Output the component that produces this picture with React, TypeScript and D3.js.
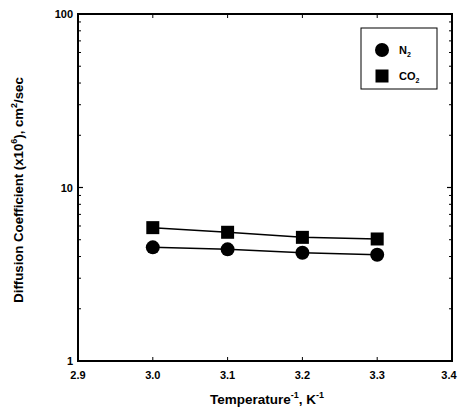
import React from "react";
import * as d3 from "d3";

const xTicks = [2.9, 3.0, 3.1, 3.2, 3.3, 3.4];
const yTicks = [1, 10, 100];
const temps = [3.0, 3.1, 3.2, 3.3];
const n2 = [4.52, 4.4, 4.21, 4.1];
const co2 = [5.87, 5.52, 5.16, 5.05];

const W = 458, H = 409;
const L = 78, R = 452, T = 14, B = 361;

export default function App() {
  const x = d3.scaleLinear().domain([2.9, 3.4]).range([L, R]);
  const y = d3.scaleLog().domain([1, 100]).range([B, T]);
  const line = d3.line<number>().x((_, i) => x(temps[i])).y((d) => y(d));
  const minors: number[] = [];
  for (const dec of [1, 10]) for (let k = 2; k <= 9; k++) minors.push(dec * k);
  const font = "'Liberation Sans', Arial, sans-serif";
  return (
    <svg width={W} height={H} style={{ position: "absolute", left: 0, top: 0 }}>
      <rect width={W} height={H} fill="#fff" />
      {minors.map((v) => (
        <g key={"m" + v}>
          <line x1={L} x2={L + 3} y1={y(v)} y2={y(v)} stroke="#000" strokeWidth={1} />
          <line x1={R} x2={R - 3} y1={y(v)} y2={y(v)} stroke="#000" strokeWidth={1} />
        </g>
      ))}
      {yTicks.map((v) => (
        <g key={"y" + v}>
          <line x1={L} x2={L + 5} y1={y(v)} y2={y(v)} stroke="#000" strokeWidth={1.2} />
          <line x1={R} x2={R - 5} y1={y(v)} y2={y(v)} stroke="#000" strokeWidth={1.2} />
          <text x={L - 5} y={y(v) + 4} textAnchor="end" fontFamily={font} fontSize={11} fontWeight="bold">
            {v}
          </text>
        </g>
      ))}
      {xTicks.map((v) => (
        <g key={"x" + v}>
          <line x1={x(v)} x2={x(v)} y1={B} y2={B - 4} stroke="#000" strokeWidth={1} />
          <line x1={x(v)} x2={x(v)} y1={T} y2={T + 4} stroke="#000" strokeWidth={1} />
          <text x={Math.min(x(v), W - 9)} y={B + 18} textAnchor="middle" fontFamily={font} fontSize={11} fontWeight="bold">
            {v.toFixed(1)}
          </text>
        </g>
      ))}
      <rect x={L} y={T} width={R - L} height={B - T} fill="none" stroke="#000" strokeWidth={2} />
      <path d={line(co2) || ""} fill="none" stroke="#000" strokeWidth={1.5} />
      <path d={line(n2) || ""} fill="none" stroke="#000" strokeWidth={1.5} />
      {co2.map((v, i) => (
        <rect key={"c" + i} x={x(temps[i]) - 6.5} y={y(v) - 6.5} width={13} height={13} fill="#000" />
      ))}
      {n2.map((v, i) => (
        <circle key={"n" + i} cx={x(temps[i])} cy={y(v)} r={7} fill="#000" />
      ))}
      <rect x={361} y={28} width={76} height={61} fill="#fff" stroke="#000" strokeWidth={1} />
      <circle cx={382} cy={50} r={7} fill="#000" />
      <rect x={375.5} y={69.5} width={13} height={13} fill="#000" />
      <text x={399} y={54} fontFamily={font} fontSize={11} fontWeight="bold">
        N<tspan fontSize={7} dy={3}>2</tspan>
      </text>
      <text x={399} y={80} fontFamily={font} fontSize={11} fontWeight="bold">
        CO<tspan fontSize={7} dy={3}>2</tspan>
      </text>
      <text x={(L + R) / 2 + 2} y={404} textAnchor="middle" fontFamily={font} fontSize={13.5} fontWeight="bold">
        Temperature<tspan fontSize={9} dy={-6}>-1</tspan>
        <tspan dy={6}>, K</tspan>
        <tspan fontSize={9} dy={-6}>-1</tspan>
      </text>
      <text transform={`translate(23, 190) rotate(-90)`} textAnchor="middle" fontFamily={font} fontSize={13.2} fontWeight="bold">
        Diffusion Coefficient (x10<tspan fontSize={9} dy={-6}>6</tspan>
        <tspan dy={6}>), cm</tspan>
        <tspan fontSize={9} dy={-6}>2</tspan>
        <tspan dy={6}>/sec</tspan>
      </text>
    </svg>
  );
}
